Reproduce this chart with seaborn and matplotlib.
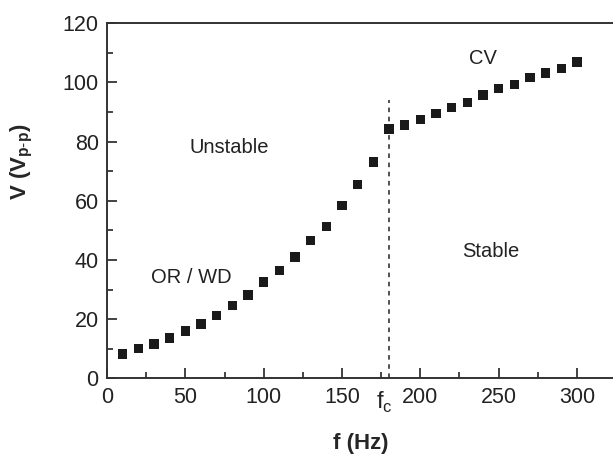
import numpy as np
import pandas as pd
import matplotlib
matplotlib.use("Agg")
from matplotlib import pyplot as plt
from matplotlib.ticker import MultipleLocator
import seaborn as sns

# Datos
freq = [10, 20, 30, 40, 50, 60, 70, 80, 90, 100, 110, 120, 130, 140, 150,
        160, 170, 180, 190, 200, 210, 220, 230, 240, 250, 260, 270, 280, 290, 300]
volt = [8.2, 10.0, 11.6, 13.6, 16.0, 18.4, 21.3, 24.7, 28.2, 32.6, 36.5, 41.0, 46.5, 51.2, 58.3,
        65.4, 73.1, 84.3, 85.6, 87.5, 89.6, 91.5, 93.3, 95.7, 97.9, 99.3, 101.6, 103.2, 104.6, 106.9]
f_c = 180
region_labels = ["Unstable", "OR / WD", "CV", "Stable"]
region_pos = [(78, 78), (54, 34), (240, 108), (245, 43)]

df = pd.DataFrame({"f": freq, "V": volt})

sns.set_style("ticks")
plt.rcParams["font.family"] = ["Liberation Sans", "DejaVu Sans"]
plt.rcParams["mathtext.fontset"] = "custom"
plt.rcParams["mathtext.rm"] = "Liberation Sans"
plt.rcParams["mathtext.bf"] = "Liberation Sans:bold"

fig = plt.figure(figsize=(6.13, 4.62), dpi=100)
ax = fig.add_axes([0.1746, 0.181, 1 - 0.1746, 0.9498 - 0.181])

sns.scatterplot(data=df, x="f", y="V", marker="s", s=45, color="#1a1a1a",
                edgecolor="none", ax=ax, zorder=3)

# linea vertical en f_c
ax.plot([f_c, f_c], [0, 94], linestyle=(0, (3, 3)), color="#222222", lw=1.1)

for lab, (x, y) in zip(region_labels, region_pos):
    ax.text(x, y, lab, fontsize=14.5, ha="center", va="center", color="#222222")

ax.annotate("f$_\\mathregular{c}$", xy=(f_c, 0), xytext=(-3, -8),
            textcoords="offset points", ha="center", va="top",
            fontsize=17, color="#222222", annotation_clip=False)

ax.set_xlim(0, 323)
ax.set_ylim(0, 120)
ax.xaxis.set_major_locator(MultipleLocator(50))
ax.xaxis.set_minor_locator(MultipleLocator(25))
ax.yaxis.set_major_locator(MultipleLocator(20))
ax.yaxis.set_minor_locator(MultipleLocator(10))
ax.tick_params(which="major", direction="in", length=7, width=1.2, labelsize=15.5,
               colors="#222222", pad=6)
ax.tick_params(which="minor", direction="in", length=4, width=1.2)

for side in ["left", "bottom", "top"]:
    ax.spines[side].set_linewidth(1.4)
    ax.spines[side].set_color("#333333")
ax.spines["right"].set_visible(False)

ax.set_xlabel("f (Hz)", fontsize=16, fontweight="bold", va="top")
ax.set_ylabel("V (V$_{\\mathbf{p\\text{-}p}}$)", fontsize=16, fontweight="bold")
ax.xaxis.set_label_coords(0.502, -0.154)
ax.yaxis.set_label_coords(-0.142, 0.61)

fig.savefig("out.png", dpi=100)
